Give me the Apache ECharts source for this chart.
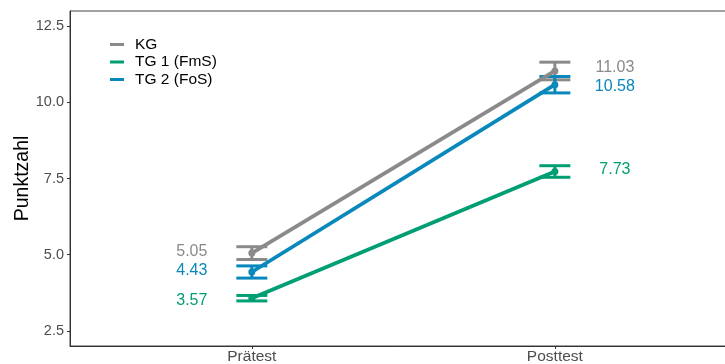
<!DOCTYPE html>
<html>
<head>
<meta charset="utf-8">
<script src="https://cdn.jsdelivr.net/npm/echarts@6/dist/echarts.min.js"></script>
<style>
  html, body { margin: 0; padding: 0; background: #fff; }
  #chart { width: 725px; height: 364px; }
</style>
</head>
<body>
<div id="chart"></div>
<script>
// ---- data ----
const categories = ['Prätest', 'Posttest'];
const groupNames = ['KG', 'TG 1 (FmS)', 'TG 2 (FoS)'];
const kgMeans  = [5.05, 11.03];
const tg1Means = [3.57, 7.73];
const tg2Means = [4.43, 10.58];
const kgErr  = [0.21, 0.29];
const tg1Err = [0.09, 0.19];
const tg2Err = [0.20, 0.27];
const yTicks = [2.5, 5.0, 7.5, 10.0, 12.5];

// ---- styles ----
const FONT = 'Liberation Sans, Arial, sans-serif';
const colors = ['#8A8A8A', '#009E73', '#0888BB'];
const labelNudge = [[-2, -3], [2, -2], [-1, 2]]; // [pre, post] vertical nudges per group

const meansList = [kgMeans, tg1Means, tg2Means];
const errList = [kgErr, tg1Err, tg2Err];

const xPos = categories.map((c, i) => i + 1);

const series = [];
meansList.forEach((means, g) => {
  series.push({
    name: groupNames[g] + ' SE',
    type: 'custom',
    z: 2,
    encode: { x: 0, y: [1, 2] },
    data: means.map((m, i) => [xPos[i], m - errList[g][i], m + errList[g][i]]),
    renderItem: function (params, api) {
      const x = api.value(0);
      const lo = api.coord([x, api.value(1)]);
      const hi = api.coord([x, api.value(2)]);
      const hw = 15.5;
      const st = { stroke: colors[g], lineWidth: 3 };
      return {
        type: 'group',
        children: [
          { type: 'line', shape: { x1: lo[0], y1: lo[1], x2: hi[0], y2: hi[1] }, style: st },
          { type: 'line', shape: { x1: lo[0] - hw, y1: lo[1], x2: lo[0] + hw, y2: lo[1] }, style: st },
          { type: 'line', shape: { x1: hi[0] - hw, y1: hi[1], x2: hi[0] + hw, y2: hi[1] }, style: st }
        ]
      };
    }
  });
});
meansList.forEach((means, g) => {
  series.push({
    name: groupNames[g],
    type: 'line',
    z: 3,
    symbol: 'circle',
    symbolSize: 7,
    color: colors[g],
    lineStyle: { width: 3.8, color: colors[g] },
    itemStyle: { color: colors[g] },
    emphasis: { disabled: true },
    data: means.map((m, i) => ({
      value: [xPos[i], m],
      label: {
        show: true,
        position: 'inside',
        offset: [i === 0 ? -60 : 60, labelNudge[g][i]],
        align: 'center',
        verticalAlign: 'middle',
        formatter: (p) => p.value[1].toFixed(2),
        color: colors[g],
        fontSize: 16,
        fontFamily: FONT
      }
    }))
  });
});

const chart = echarts.init(document.getElementById('chart'), null, { renderer: 'canvas' });
chart.setOption({
  animation: false,
  backgroundColor: '#ffffff',
  grid: {
    left: 70, right: -2, top: 11, bottom: 18,
    outerBoundsMode: 'none',
    containLabel: false,
    show: true, borderColor: '#444', borderWidth: 1, backgroundColor: 'transparent'
  },
  legend: {
    data: groupNames,
    orient: 'vertical',
    left: 110,
    top: 36,
    padding: 0,
    icon: 'rect',
    itemWidth: 14,
    itemHeight: 3,
    itemGap: 0.5,
    selectedMode: false,
    textStyle: { fontSize: 15.5, color: '#000', fontFamily: FONT, lineHeight: 17, padding: [0, 0, 0, 6] }
  },
  xAxis: {
    type: 'value',
    min: 0.4,
    max: 2.568,
    splitLine: { show: false },
    axisLine: { show: true, lineStyle: { color: '#333', width: 1 } },
    axisTick: { show: true, customValues: xPos, length: 3, lineStyle: { color: '#333' } },
    axisLabel: {
      customValues: xPos,
      formatter: (v) => categories[Math.round(v) - 1],
      fontSize: 15.5, color: '#4D4D4D', fontFamily: FONT, margin: 3
    }
  },
  yAxis: {
    type: 'value',
    min: 2,
    max: 13,
    name: 'Punktzahl',
    nameLocation: 'middle',
    nameGap: 37,
    nameMoveOverlap: false,
    nameTextStyle: { fontSize: 19.5, color: '#000', fontFamily: FONT },
    splitLine: { show: false },
    axisLine: { show: true, lineStyle: { color: '#333', width: 1 } },
    axisTick: { show: true, customValues: yTicks, length: 3, lineStyle: { color: '#333' } },
    axisLabel: {
      customValues: yTicks,
      formatter: (v) => v.toFixed(1),
      fontSize: 14.5, color: '#4D4D4D', fontFamily: FONT, margin: 6
    }
  },
  series: series
});
</script>
</body>
</html>
